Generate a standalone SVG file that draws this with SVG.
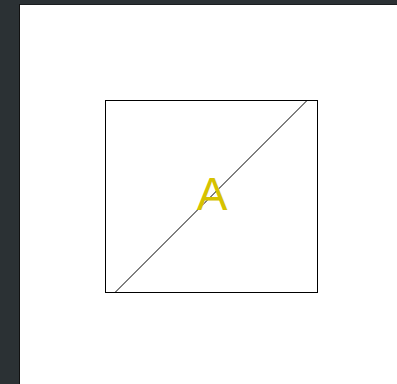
<svg xmlns="http://www.w3.org/2000/svg" width="397" height="384" viewBox="0 0 397 384">
<style>
.frame{fill:#2b3134}
.shape{fill:none;stroke:#000;stroke-width:1}
.label{font-family:"Liberation Sans",Arial,sans-serif;font-size:46px;fill:#d6c200;text-anchor:middle}
</style>
<rect class="frame" x="0" y="0" width="397" height="384"/>
<rect x="20" y="5" width="377" height="379" fill="#fff"/>
<line x1="19.5" y1="4" x2="19.5" y2="384" stroke="#111" stroke-width="1"/>
<line x1="20" y1="4.5" x2="397" y2="4.5" stroke="#1a1d1f" stroke-width="1"/>
<g id="box">
<rect class="shape" x="105.5" y="100.5" width="212" height="192"/>
</g>
<g id="connectors">
<line class="shape" x1="115" y1="292.5" x2="307" y2="100.5"/>
</g>
<g id="labelA">
<text class="label" x="212" y="210">A</text>
</g>
</svg>
